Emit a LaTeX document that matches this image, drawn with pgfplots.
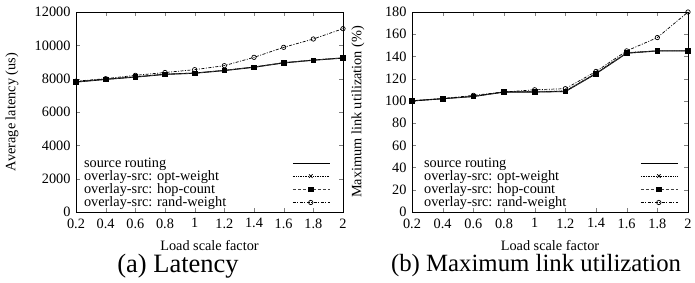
\documentclass[border=0pt]{standalone}
\usepackage{fontspec}
\setmainfont{Liberation Serif}
\usepackage{pgfplots}
\pgfplotsset{compat=1.18}
\pgfplotsset{
  gp/.style={
    scale only axis, height=200pt,
    xmin=0.2, xmax=2,
    xtick={0.2,0.4,0.6,0.8,1,1.2,1.4,1.6,1.8,2},
    scaled y ticks=false, scaled x ticks=false,
    /pgf/number format/assume math mode=true,
    /pgf/number format/set thousands separator={},
    tick label style={font=\fontsize{14.3}{15}\selectfont},
    xticklabel style={yshift=-3pt},
    yticklabel style={xshift=-2pt},
    label style={font=\fontsize{14.3}{15}\selectfont},
    tick align=inside, major tick length=4pt,
    axis line style={line width=0.9pt},
    xlabel={Load scale factor},
    xlabel style={at={(axis description cs:0.5,-0.17)}, anchor=center},
    legend plot pos=right, legend cell align=left,
    legend style={draw=none, fill=none, inner sep=0pt,
      font=\fontsize{14.3}{14}\selectfont, row sep=-2.2pt},
    legend image code/.code={\draw[mark repeat=2,mark phase=2,##1] plot coordinates {(0pt,0pt) (18pt,0pt) (37pt,0pt)};},
  },
  src/.style={black, line width=1.1pt, mark=none},
  opt/.style={black, densely dotted, line width=0.7pt, mark=x, mark size=2.5pt, mark options={solid}},
  hop/.style={black!75, dash pattern=on 3.5pt off 1.5pt, line width=0.7pt, mark=square*, mark size=2.3pt, mark options={solid, fill=black, draw=black}},
  rnd/.style={black, dash pattern=on 3pt off 1.5pt on 1pt off 1.5pt, line width=0.7pt, mark=o, mark size=2.2pt, mark options={solid}},
}
\begin{document}
\begin{tikzpicture}[font=\fontsize{14.3}{15}\selectfont]
\useasboundingbox (0,0) rectangle (695pt,282pt);
\begin{axis}[gp, at={(76pt,70pt)}, anchor=south west, width=267pt,
  ymin=0, ymax=12000, ytick={0,2000,4000,6000,8000,10000,12000},
  ylabel={Average latency (us)},
  ylabel style={at={(axis description cs:-0.24,0.5)}, anchor=center},
  legend style={at={(axis description cs:0.022,0.008)}, anchor=south west,
    /tikz/every odd column/.append style={column sep=64pt}},
]
\addplot[src] coordinates {(0.2,7800) (0.4,7960) (0.6,8100) (0.8,8260) (1,8330) (1.2,8490) (1.4,8690) (1.6,8950) (1.8,9110) (2,9240)};
\addlegendentry{source routing}
\addplot[opt] coordinates {(0.2,7820) (0.4,7970) (0.6,8110) (0.8,8270) (1,8340) (1.2,8500) (1.4,8700) (1.6,8960) (1.8,9120) (2,9250)};
\addlegendentry{overlay-src: opt-weight}
\addplot[hop] coordinates {(0.2,7800) (0.4,7960) (0.6,8100) (0.8,8260) (1,8330) (1.2,8490) (1.4,8690) (1.6,8950) (1.8,9110) (2,9240)};
\addlegendentry{overlay-src: hop-count}
\addplot[rnd] coordinates {(0.2,7850) (0.4,8000) (0.6,8200) (0.8,8370) (1,8540) (1.2,8780) (1.4,9280) (1.6,9880) (1.8,10380) (2,11000)};
\addlegendentry{overlay-src: rand-weight}
\end{axis}
\begin{axis}[gp, at={(412pt,70pt)}, anchor=south west, width=276pt,
  ymin=0, ymax=180, ytick={0,20,40,60,80,100,120,140,160,180},
  ylabel={Maximum link utilization (\%)},
  ylabel style={at={(axis description cs:-0.196,0.5)}, anchor=center},
  legend style={at={(axis description cs:0.036,0.008)}, anchor=south west,
    /tikz/every odd column/.append style={column sep=72pt}},
]
\addplot[src] coordinates {(0.2,100) (0.4,102) (0.6,104) (0.8,108) (1,108) (1.2,108.5) (1.4,124.5) (1.6,143) (1.8,145) (2,145)};
\addlegendentry{source routing}
\addplot[opt] coordinates {(0.2,100) (0.4,102) (0.6,104) (0.8,108) (1,108.5) (1.2,109) (1.4,125) (1.6,143.5) (1.8,145) (2,145)};
\addlegendentry{overlay-src: opt-weight}
\addplot[hop] coordinates {(0.2,100) (0.4,102) (0.6,104) (0.8,108) (1,108) (1.2,108.5) (1.4,124.5) (1.6,143) (1.8,145) (2,145)};
\addlegendentry{overlay-src: hop-count}
\addplot[rnd] coordinates {(0.2,100) (0.4,102) (0.6,105) (0.8,108) (1,110) (1.2,111) (1.4,126.5) (1.6,145) (1.8,157) (2,180)};
\addlegendentry{overlay-src: rand-weight}
\end{axis}
\node[font=\fontsize{26.5}{27}\selectfont] at (178pt,16pt) {(a) Latency};
\node[font=\fontsize{24.8}{25}\selectfont] at (536pt,16pt) {(b) Maximum link utilization};
\end{tikzpicture}
\end{document}
